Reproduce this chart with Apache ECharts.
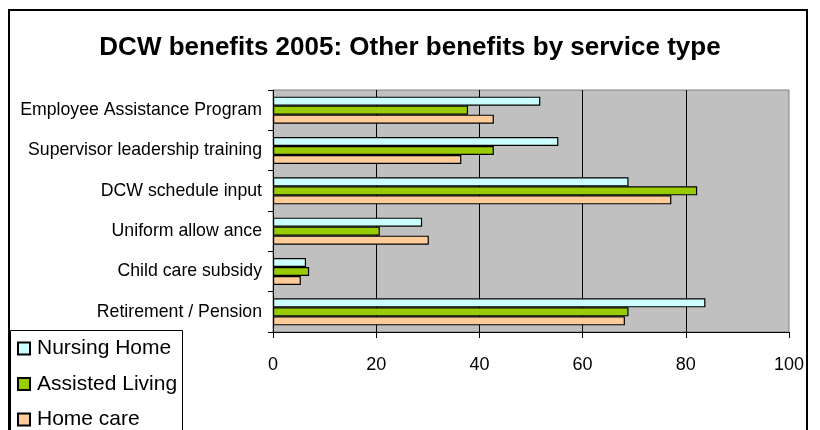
<!DOCTYPE html>
<html>
<head>
<meta charset="utf-8">
<title>DCW benefits 2005</title>
<script src="https://cdn.jsdelivr.net/npm/echarts@6/dist/echarts.min.js"></script>
<style>
  html, body { margin: 0; padding: 0; background: #ffffff; }
  #chart { width: 820px; height: 430px; }
</style>
</head>
<body>
<div id="chart"></div>
<script>
// Benefit categories, listed from top to bottom
const categories = [
  'Employee Assistance Program',
  'Supervisor leadership training',
  'DCW schedule input',
  'Uniform allow ance',
  'Child care subsidy',
  'Retirement / Pension'
];

// Share of employers offering each benefit (%), by service type
const nursingHome    = [51.8, 55.3, 68.9, 28.9, 6.4, 83.8];
const assistedLiving = [37.8, 42.8, 82.2, 20.7, 7.0, 68.9];
const homeCare       = [42.8, 36.5, 77.2, 30.2, 5.4, 68.2];

const seriesNames = ['Nursing Home', 'Assisted Living', 'Home care'];

// Value axis ticks
const xTicks = [0, 20, 40, 60, 80, 100];

const FONT = '"Liberation Sans", Arial, sans-serif';
const colors = ['#CCFFFF', '#99CC00', '#FFCC99'];
const values = [nursingHome, assistedLiving, homeCare];

const chart = echarts.init(document.getElementById('chart'), null, { renderer: 'canvas' });

chart.setOption({
  backgroundColor: '#ffffff',
  animation: false,
  title: {
    text: 'DCW benefits 2005: Other benefits by service type',
    left: 'center',
    top: 30,
    textStyle: { fontFamily: FONT, fontSize: 26, fontWeight: 'bold', color: '#000' }
  },
  legend: {
    data: seriesNames,
    orient: 'vertical',
    left: 17,
    top: 338,
    padding: 0,
    itemWidth: 12,
    itemHeight: 12,
    itemGap: 14.5,
    icon: 'rect',
    textStyle: { fontFamily: FONT, fontSize: 21, lineHeight: 20, color: '#000', padding: [0, 0, 0, 2] }
  },
  grid: {
    left: 273,
    right: 31,
    top: 90,
    bottom: 98,
    show: true,
    backgroundColor: '#C0C0C0',
    borderColor: '#808080',
    borderWidth: 1,
    containLabel: false
  },
  xAxis: {
    type: 'value',
    min: xTicks[0],
    max: xTicks[xTicks.length - 1],
    interval: xTicks[1] - xTicks[0],
    axisLine: { show: true, lineStyle: { color: '#000', width: 1 } },
    axisTick: { show: true, length: 6, lineStyle: { color: '#000' } },
    axisLabel: { fontFamily: FONT, fontSize: 18, color: '#000', margin: 24 },
    splitLine: { show: true, showMinLine: false, showMaxLine: false, lineStyle: { color: '#000', width: 1 } }
  },
  yAxis: {
    type: 'category',
    data: categories,
    inverse: true,
    axisLine: { show: true, lineStyle: { color: '#000', width: 1 } },
    axisTick: { show: true, length: 5, lineStyle: { color: '#000' } },
    axisLabel: { fontFamily: FONT, fontSize: 17.7, color: '#000', margin: 11 }
  },
  series: seriesNames.map((name, i) => ({
    name: name,
    type: 'bar',
    data: values[i],
    barWidth: 9,
    barGap: '0%',
    itemStyle: { color: colors[i], borderColor: '#000', borderWidth: 1.2 }
  })),
  graphic: [
    {
      // legend frame
      type: 'rect',
      shape: { x: 10.5, y: 330.5, width: 172, height: 120 },
      style: { fill: null, stroke: '#000', lineWidth: 1 },
      z: 100,
      silent: true
    },
    {
      // outer chart frame
      type: 'rect',
      shape: { x: 9, y: 10, width: 798, height: 440 },
      style: { fill: null, stroke: '#000', lineWidth: 2 },
      z: 100,
      silent: true
    }
  ]
});
</script>
</body>
</html>
